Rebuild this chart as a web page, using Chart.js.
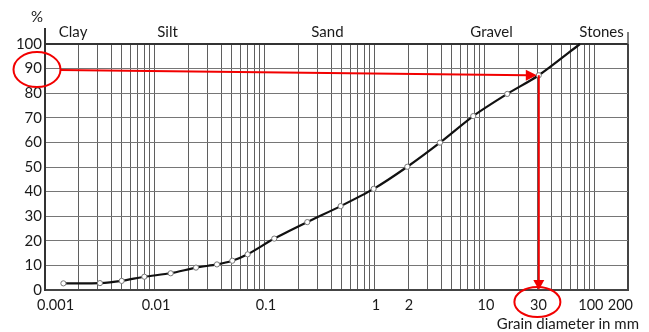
<!DOCTYPE html>
<html>
<head>
<meta charset="utf-8">
<script src="https://cdn.jsdelivr.net/npm/chart.js@4/dist/chart.umd.min.js"></script>
<style>
  html, body { margin: 0; padding: 0; background: #ffffff; }
  #wrap { width: 649px; height: 332px; }
</style>
</head>
<body>
<div id="wrap"><canvas id="c" width="649" height="332"></canvas></div>
<script>
// ---- data ----
const grainSize = [0.00147, 0.00316, 0.00498, 0.0080, 0.0139, 0.0236, 0.0366, 0.0505, 0.0696,
                   0.1215, 0.2425, 0.488, 0.973, 1.97, 3.90, 7.83, 15.96, 30.9, 73.1];
const passing   = [2.7, 2.8, 3.7, 5.4, 6.8, 9.1, 10.4, 11.9, 14.5,
                   20.9, 27.6, 34.1, 41.1, 50.1, 59.9, 70.7, 79.7, 87.3, 100];
const xTickValues = [0.001, 0.01, 0.1, 1, 2, 10, 30, 100, 200];
const xTickLabels = ['0.001', '0.01', '0.1', '1', '2', '10', '30', '100', '200'];
const yTickValues = [0, 10, 20, 30, 40, 50, 60, 70, 80, 90, 100];
const soilClasses = ['Clay', 'Silt', 'Sand', 'Gravel', 'Stones'];
const soilClassAt = [0.0018, 0.013, 0.37, 11.5, 115];
const gridMantissas = [1, 2, 3, 4, 5, 6, 7, 8, 9];
const gridDecades = [0.001, 0.01, 0.1, 1, 10, 100];
const readStartPercent = 89.4;  // red reading line starts at the "90" label
const readPointIndex = 17;      // point where the reading meets the curve
const circledY = 90;
const circledX = 30;
const xMin = 0.001, xMax = 200;

const gridValues = [];
gridDecades.forEach(d => gridMantissas.forEach(m => {
  const v = +(m * d).toPrecision(3);
  if (v <= xMax) gridValues.push(v);
}));

const FONT = 'Lato, "Open Sans", "Noto Sans", sans-serif';
const TEXT = '#1a1a1a';
const RED = '#f20000';

const overlay = {
  id: 'overlay',
  afterDraw(chart) {
    const { ctx, chartArea: a, scales: { x, y } } = chart;
    ctx.save();
    // axis line extensions above the frame
    ctx.strokeStyle = '#333'; ctx.lineWidth = 2;
    ctx.beginPath(); ctx.moveTo(a.left, a.top); ctx.lineTo(a.left, a.top - 16); ctx.stroke();
    ctx.strokeStyle = '#555'; ctx.lineWidth = 1.5;
    ctx.beginPath(); ctx.moveTo(a.right, a.top); ctx.lineTo(a.right, a.top - 12); ctx.stroke();

    ctx.fillStyle = TEXT;
    ctx.font = '15px ' + FONT;
    // y tick labels
    ctx.textAlign = 'right'; ctx.textBaseline = 'middle';
    yTickValues.forEach(v => ctx.fillText(String(v), a.left - 3, y.getPixelForValue(v)));
    // % sign
    ctx.textAlign = 'center';
    ctx.fillText('%', a.left - 8, a.top - 27);
    // x tick labels
    ctx.font = '14.5px ' + FONT;
    const n = xTickValues.length;
    xTickValues.forEach((v, i) => {
      const px = x.getPixelForValue(v);
      if (i === 0) { ctx.textAlign = 'left'; ctx.fillText(xTickLabels[i], px - 8, a.bottom + 15); }
      else if (i === n - 1) { ctx.textAlign = 'right'; ctx.fillText(xTickLabels[i], px + 5, a.bottom + 15); }
      else if (i === n - 2) { ctx.textAlign = 'center'; ctx.fillText(xTickLabels[i], px - 4, a.bottom + 15); }
      else { ctx.textAlign = 'center'; ctx.fillText(xTickLabels[i], px + 1, a.bottom + 15); }
    });
    // soil classes
    ctx.font = '15px ' + FONT;
    ctx.textAlign = 'center';
    soilClasses.forEach((s, i) => ctx.fillText(s, x.getPixelForValue(soilClassAt[i]), a.top - 12));
    // axis title
    ctx.textAlign = 'right';
    ctx.fillText('Grain diameter in mm', 639, a.bottom + 34);

    // red reading annotation
    const px = x.getPixelForValue(grainSize[readPointIndex]);
    const py = y.getPixelForValue(passing[readPointIndex]);
    const sy = y.getPixelForValue(readStartPercent);
    ctx.strokeStyle = RED; ctx.fillStyle = RED; ctx.lineWidth = 2;
    // ellipse around 90
    ctx.beginPath();
    ctx.ellipse(a.left - 8, y.getPixelForValue(circledY) + 1, 23.5, 17.5, 0, 0, Math.PI * 2);
    ctx.stroke();
    // horizontal line with arrow
    const tipX = px - 2;
    ctx.beginPath(); ctx.moveTo(a.left + 15, sy); ctx.lineTo(tipX - 9, py); ctx.stroke();
    ctx.beginPath();
    ctx.moveTo(tipX, py); ctx.lineTo(tipX - 11, py - 5.5); ctx.lineTo(tipX - 11, py + 5.5); ctx.closePath(); ctx.fill();
    // vertical line with arrow
    ctx.beginPath(); ctx.moveTo(px, py); ctx.lineTo(px, a.bottom - 8); ctx.stroke();
    ctx.beginPath();
    ctx.moveTo(px, a.bottom); ctx.lineTo(px - 5.5, a.bottom - 10); ctx.lineTo(px + 5.5, a.bottom - 10); ctx.closePath(); ctx.fill();
    // ellipse around 30
    ctx.beginPath();
    ctx.ellipse(x.getPixelForValue(circledX), a.bottom + 12, 23, 15, 0, 0, Math.PI * 2);
    ctx.stroke();
    ctx.restore();
  }
};

new Chart(document.getElementById('c'), {
  type: 'line',
  data: {
    datasets: [{
      data: grainSize.map((g, i) => ({ x: g, y: passing[i] })),
      borderColor: '#111',
      borderWidth: 2.2,
      tension: 0.25,
      pointRadius: grainSize.map((g, i) => i === grainSize.length - 1 ? 0 : 2.6),
      pointBackgroundColor: '#ffffff',
      pointBorderColor: '#777',
      pointBorderWidth: 1,
      clip: false
    }]
  },
  options: {
    responsive: false,
    animation: false,
    devicePixelRatio: 1,
    layout: { padding: { left: 45, right: 21, top: 44, bottom: 42 } },
    plugins: { legend: { display: false }, tooltip: { enabled: false } },
    scales: {
      x: {
        type: 'logarithmic',
        min: xMin, max: xMax,
        afterBuildTicks: axis => { axis.ticks = gridValues.map(v => ({ value: v })); },
        ticks: { display: false },
        grid: {
          drawTicks: false,
          color: c => (c.tick && c.tick.value === xMax) ? '#444' : '#5f5f5f',
          lineWidth: c => (c.tick && c.tick.value === xMax) ? 2 : 1
        },
        border: { display: true, color: '#444', width: 2 }
      },
      y: {
        type: 'linear',
        min: 0, max: 100,
        ticks: { display: false, stepSize: 10 },
        grid: {
          drawTicks: false,
          color: c => (c.tick && c.tick.value === 100) ? '#333' : '#767676',
          lineWidth: c => (c.tick && c.tick.value === 100) ? 2 : 1
        },
        border: { display: true, color: '#333', width: 2 }
      }
    }
  },
  plugins: [overlay]
});
</script>
</body>
</html>
